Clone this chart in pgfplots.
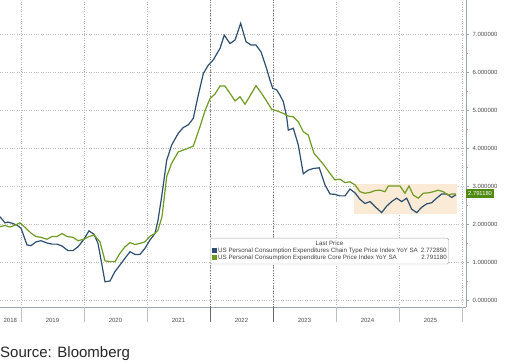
\documentclass[border=0pt]{standalone}
\usepackage{pgfplots}
\pgfplotsset{compat=1.18}
\usepackage{fontspec}
\setmainfont{Liberation Sans}
\definecolor{pceblue}{HTML}{2C4E70}
\definecolor{pcegreen}{HTML}{6E9B22}
\definecolor{peach}{HTML}{FBEBD6}
\definecolor{gridc}{HTML}{B8B8B8}
\definecolor{axisc}{HTML}{9AA5B1}
\definecolor{labgreen}{HTML}{4F8A12}
\begin{document}
\begin{tikzpicture}
\useasboundingbox (0pt,0pt) rectangle (506pt,364pt);
\begin{axis}[
  at={(0pt,57pt)}, anchor=south west,
  scale only axis, width=466pt, height=307pt,
  xmin=2018.6667, xmax=2026.064,
  ymin=-0.184, ymax=7.895,
  axis x line*=bottom, axis y line*=right,
  axis line style={axisc, line width=0.6pt},
  tick align=outside,
  xtick={2019,...,2026}, xticklabels={},
  minor x tick num=3,
  extra x ticks={2018.83,2019.5,2020.5,2021.5,2022.5,2023.5,2024.5,2025.5},
  extra x tick labels={2018,2019,2020,2021,2022,2023,2024,2025},
  extra x tick style={major tick length=0pt, grid=none,
     xticklabel style={yshift=-7.5pt}},
  ytick={0,1,...,7},
  minor y tick num=1,
  major tick length=3pt, minor tick length=1.8pt,
  xmajorgrids, ymajorgrids,
  major grid style={gridc, dotted, line width=0.6pt},
  every tick/.style={axisc},
  yticklabel style={/pgf/number format/.cd, fixed, fixed zerofill, precision=6, /tikz/.cd},
  /pgf/number format/assume math mode=true,
  ticklabel style={font=\fontsize{6}{7}\selectfont, text=black!70},
  clip=false,
]
\fill[peach] (axis cs:2024.29,2.26) rectangle (axis cs:2025.92,3.05);
\draw[black!55, dotted, line width=0.6pt] (rel axis cs:0.45062,0) -- (rel axis cs:0.45062,1);
\draw[black!55, dotted, line width=0.6pt] (rel axis cs:0.58581,0) -- (rel axis cs:0.58581,1);
\pgfplotsinvokeforeach{0.04506,0.18025,0.31543,0.72100,0.85618,0.99137}{
  \draw[axisc!70, line width=0.5pt] (rel axis cs:#1,0) -- ++(0pt,-15pt);}
\pgfplotsinvokeforeach{0.45062,0.58581}{
  \draw[black!60, line width=0.6pt] (rel axis cs:#1,0) -- ++(0pt,-15pt);}
\addplot[pceblue, line width=1.2pt] coordinates {
(2018.667,2.19) (2018.746,2.03) (2018.794,2.05) (2018.857,2.02) (2018.937,1.97) (2019.0,1.89)
(2019.095,1.45) (2019.159,1.43) (2019.238,1.53) (2019.317,1.56) (2019.413,1.50) (2019.492,1.47)
(2019.571,1.47) (2019.651,1.42) (2019.746,1.30) (2019.825,1.30) (2019.905,1.40) (2020.0,1.60)
(2020.079,1.82) (2020.159,1.73) (2020.222,1.49) (2020.281,0.96) (2020.333,0.48) (2020.413,0.50)
(2020.492,0.75) (2020.571,0.92) (2020.651,1.10) (2020.730,1.27) (2020.810,1.20) (2020.889,1.20)
(2020.968,1.36) (2021.048,1.58) (2021.127,1.75) (2021.175,2.10) (2021.233,2.72) (2021.313,3.68)
(2021.392,4.08) (2021.497,4.39) (2021.576,4.54) (2021.656,4.61) (2021.735,4.78) (2021.814,5.39)
(2021.894,5.96) (2021.973,6.18) (2022.052,6.32) (2022.159,6.62) (2022.227,6.97) (2022.317,6.75)
(2022.397,6.84) (2022.487,7.28) (2022.571,6.80) (2022.651,6.71) (2022.730,6.71) (2022.810,6.53)
(2022.889,6.14) (2022.952,5.79) (2022.995,5.57) (2023.059,5.53) (2023.111,5.39) (2023.164,5.22)
(2023.217,4.82) (2023.243,4.47) (2023.323,4.52) (2023.402,4.08) (2023.481,3.32) (2023.560,3.42)
(2023.640,3.46) (2023.735,3.48) (2023.825,3.03) (2023.905,2.79) (2023.984,2.78) (2024.063,2.74)
(2024.143,2.74) (2024.222,2.92) (2024.302,2.82) (2024.381,2.65) (2024.460,2.54) (2024.540,2.59)
(2024.619,2.46) (2024.725,2.30) (2024.805,2.47) (2024.884,2.59) (2024.963,2.68) (2025.043,2.59)
(2025.122,2.68) (2025.202,2.39) (2025.281,2.30) (2025.360,2.44) (2025.440,2.53) (2025.519,2.56)
(2025.598,2.68) (2025.678,2.79) (2025.757,2.79) (2025.837,2.70) (2025.905,2.77)
};
\addplot[pcegreen, line width=1.2pt] coordinates {
(2018.667,1.93) (2018.746,1.96) (2018.825,1.92) (2018.905,1.97) (2018.984,2.03) (2019.079,1.89)
(2019.159,1.76) (2019.238,1.67) (2019.317,1.65) (2019.413,1.60) (2019.492,1.67) (2019.571,1.67)
(2019.651,1.75) (2019.730,1.67) (2019.825,1.65) (2019.905,1.56) (2020.0,1.60) (2020.079,1.67)
(2020.159,1.71) (2020.254,1.53) (2020.333,1.03) (2020.413,1.01) (2020.492,1.01) (2020.571,1.23)
(2020.651,1.40) (2020.730,1.51) (2020.810,1.46) (2020.889,1.49) (2020.968,1.53) (2021.048,1.68)
(2021.127,1.75) (2021.175,1.84) (2021.238,2.19) (2021.313,3.25) (2021.392,3.60) (2021.497,3.90)
(2021.603,3.96) (2021.735,4.05) (2021.841,4.56) (2021.921,4.98) (2022.0,5.30) (2022.079,5.42)
(2022.159,5.63) (2022.238,5.63) (2022.317,5.44) (2022.397,5.24) (2022.476,5.35) (2022.556,5.15)
(2022.635,5.37) (2022.730,5.64) (2022.810,5.46) (2022.889,5.26) (2022.979,5.02) (2023.059,4.98)
(2023.164,4.91) (2023.243,4.84) (2023.323,4.82) (2023.402,4.69) (2023.481,4.43) (2023.560,4.34)
(2023.651,3.86) (2023.719,3.73) (2023.810,3.55) (2023.905,3.33) (2023.984,3.16) (2024.063,3.18)
(2024.143,3.09) (2024.222,3.11) (2024.302,3.03) (2024.381,2.85) (2024.460,2.81) (2024.540,2.83)
(2024.619,2.88) (2024.698,2.89) (2024.778,2.85) (2024.830,3.00) (2024.937,3.00) (2025.016,3.00)
(2025.095,2.81) (2025.159,3.00) (2025.227,2.76) (2025.307,2.68) (2025.386,2.81) (2025.465,2.82)
(2025.545,2.85) (2025.624,2.89) (2025.703,2.85) (2025.783,2.76) (2025.837,2.79) (2025.905,2.79)
};
\node[anchor=west, fill=labgreen, text=white, inner xsep=2pt, inner ysep=0pt,
  minimum height=9pt, font=\fontsize{5.8}{6.5}\selectfont]
  at (rel axis cs:1,0.3693) {2.791180};
\end{axis}
\node[draw=gray!70, rounded corners=1.5pt, fill=white, anchor=north west,
  inner xsep=2pt, inner ysep=1.8pt, font=\fontsize{6.2}{7.4}\selectfont, text=black!75]
  at (210pt,126pt) {%
\begin{tabular}{@{}l@{\hspace{1pt}}l@{\hspace{3pt}}r@{}}
\multicolumn{3}{c}{Last Price}\\
\textcolor{pceblue}{\rule{5pt}{5pt}} & US Personal Consumption Expenditures Chain Type Price Index YoY SA & 2.772850\\
\textcolor{pcegreen}{\rule{5pt}{5pt}} & US Personal Consumption Expenditure Core Price Index YoY SA & 2.791180
\end{tabular}};
\node[anchor=base west, inner sep=0pt, font=\fontsize{15}{18}\selectfont, text=black!85]
  at (0pt,6pt) {Source: Bloomberg};
\end{tikzpicture}
\end{document}
